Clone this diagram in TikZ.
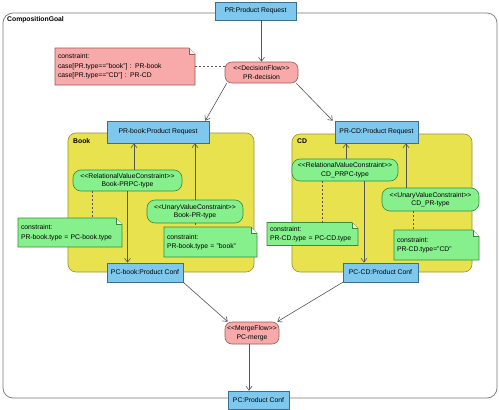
\documentclass[tikz,border=0pt]{standalone}
\usepackage{fontspec}
\setmainfont{Liberation Sans}
\usetikzlibrary{arrows.meta,calc}
\pgfdeclarelayer{bg}\pgfdeclarelayer{mid}\pgfsetlayers{bg,mid,main}
\definecolor{blueF}{HTML}{7EC8EE}
\definecolor{blueD}{HTML}{3B6E8F}
\definecolor{pinkF}{HTML}{F8AAAA}
\definecolor{pinkD}{HTML}{A05A5A}
\definecolor{greenF}{HTML}{86F08C}
\definecolor{greenD}{HTML}{3A8A3A}
\definecolor{yelF}{HTML}{E9E24F}
\definecolor{yelD}{HTML}{9A9030}
\definecolor{lineC}{HTML}{555555}
\definecolor{frameC}{HTML}{777777}
\newcommand\stL{<\kern0pt<}
\newcommand\stR{>\kern0pt>}
\begin{document}
\begin{tikzpicture}[x=1pt,y=-1pt,
  font=\fontsize{6.8}{8.5}\selectfont,
  cls/.style={draw=blueD, fill=blueF, inner sep=0pt, line width=0.6pt},
  flow/.style={draw=pinkD, fill=pinkF, rounded corners=7pt, align=center, inner sep=0pt, line width=0.6pt},
  cons/.style={draw=greenD, fill=greenF, rounded corners=8pt, align=center, inner sep=0pt, line width=0.6pt},
  note/.style={align=left, inner xsep=3pt, inner ysep=0pt, outer sep=0pt, font=\fontsize{6.8}{9.5}\selectfont},
  conn/.style={draw=lineC, line width=0.6pt, -{Straight Barb[length=4pt,width=6pt]}},
  link/.style={draw=lineC, line width=0.6pt, dash pattern=on 2pt off 2pt},
  container/.style={draw=yelD, fill=yelF, rounded corners=8pt, inner sep=0pt, line width=0.6pt},
  framebox/.style={draw=frameC, rounded corners=10pt, inner sep=0pt, line width=0.7pt},
  lbl/.style={font=\fontsize{6.8}{8}\selectfont\bfseries, anchor=west, inner sep=0pt}
]
\useasboundingbox (0,0) rectangle (499,410);

% frame and containers
\begin{pgfonlayer}{bg}
\fill[white] (0,0) rectangle (499,410);
\node[framebox, minimum width=494pt, minimum height=385pt] (frame) at (250,205.5) {};
\node[container, minimum width=186pt, minimum height=139pt] (book) at (161,202.5) {};
\node[container, minimum width=180pt, minimum height=138pt] (cd) at (382,203) {};
\end{pgfonlayer}
\node[lbl] (framel) at (7,20) {CompositionGoal};
\node[lbl] (bookl) at (73,141.5) {Book};
\node[lbl] (cdl) at (297,141) {CD};

% class boxes
\node[cls, minimum width=81pt, minimum height=18pt] (pr) at (255.5,11) {PR:Product Request};
\node[cls, minimum width=102pt, minimum height=22pt] (prb) at (158,132) {PR-book:Product Request};
\node[cls, minimum width=83pt, minimum height=22pt] (prc) at (376.5,132) {PR-CD:Product Request};
\node[cls, minimum width=76pt, minimum height=19pt] (pcb) at (145,272.5) {PC-book:Product Conf};
\node[cls, minimum width=75pt, minimum height=19pt] (pcc) at (380.5,272.5) {PC-CD:Product Conf};
\node[cls, minimum width=61pt, minimum height=18pt] (pc) at (258.5,400) {PC:Product Conf};

% flow nodes
\node[flow, minimum width=73pt, minimum height=21pt] (dec) at (261.5,72.5) {\stL DecisionFlow\stR\\PR-decision};
\node[flow, minimum width=54pt, minimum height=22pt] (merge) at (252,333) {\stL MergeFlow\stR\\PC-merge};

% constraint nodes
\node[cons, minimum width=109pt, minimum height=21pt] (bprpc) at (127.5,180.5) {\stL RelationalValueConstraint\stR\\Book-PRPC-type};
\node[cons, minimum width=96pt, minimum height=23pt] (bpr) at (195,211.5) {\stL UnaryValueConstraint\stR\\Book-PR-type};
\node[cons, minimum width=106pt, minimum height=22pt] (cprpc) at (345,170) {\stL RelationalValueConstraint\stR\\CD\_PRPC-type};
\node[cons, minimum width=97pt, minimum height=23pt] (cpr) at (430.5,199.5) {\stL UnaryValueConstraint\stR\\CD\_PR-type};

% notes (text)
\node[note, text width=134pt, minimum height=37pt] (cnote) at (125,66.5) {constraint:\\case[PR.type=="book"] : PR-book\\case[PR.type=="CD"] : PR-CD};
\node[note, text width=98pt, minimum height=29pt] (bnote1) at (70,232.5) {constraint:\\PR-book.type = PC-book.type};
\node[note, text width=87pt, minimum height=30pt] (bnote2) at (210.5,242) {constraint:\\PR-book.type = "book"};
\node[note, text width=85pt, minimum height=23pt] (cnote1) at (312.5,234) {constraint:\\PR-CD.type = PC-CD.type};
\node[note, text width=79pt, minimum height=30pt] (cnote2) at (436.5,245) {constraint:\\PR-CD.type="CD"};

% note outlines
\begin{pgfonlayer}{mid}
\foreach \n/\fc/\dc in {cnote/pinkF/pinkD, bnote1/greenF/greenD, bnote2/greenF/greenD, cnote1/greenF/greenD, cnote2/greenF/greenD}{
  \draw[fill=\fc, draw=\dc, line width=0.6pt] (\n.north west) -- ([xshift=-6pt]\n.north east) -- ([yshift=-6pt]\n.north east) -- (\n.south east) -- (\n.south west) -- cycle;
  \draw[draw=\dc, line width=0.6pt, fill=white] ([xshift=-6pt]\n.north east) -- ([xshift=-6pt,yshift=-6pt]\n.north east) -- ([yshift=-6pt]\n.north east);
}
\end{pgfonlayer}

% connectors
\draw[conn] (dec.north |- pr.south) -- (dec.north);
\draw[link] (cnote.east) -- (cnote.east -| dec.west);
\draw[conn] ([xshift=2pt]dec.south west) -- ([xshift=-4pt]prb.north east);
\draw[conn] ([xshift=-2pt]dec.south east) -- ([xshift=-2pt]prc.north west);

\draw[conn] ([xshift=6.5pt]bprpc.north) -- ([xshift=6.5pt]bprpc.north |- prb.south);
\draw[conn] (bprpc.south) -- (bprpc.south |- pcb.north);
\draw[conn] (bpr.north) -- (bpr.north |- prb.south);
\draw[link] ([xshift=-35.5pt]bprpc.south) -- ([xshift=-35.5pt]bprpc.south |- bnote1.north);
\draw[link] (bpr.south) -- (bpr.south |- bnote2.north);

\draw[conn] ([xshift=1pt]cprpc.north) -- ([xshift=1pt]cprpc.north |- prc.south);
\draw[conn] ([xshift=19pt]cprpc.south) -- ([xshift=19pt]cprpc.south |- pcc.north);
\draw[conn] ([xshift=-24.5pt]cpr.north) -- ([xshift=-24.5pt]cpr.north |- prc.south);
\draw[link] ([xshift=-23pt]cprpc.south) -- ([xshift=-23pt]cprpc.south |- cnote1.north);
\draw[link] ([xshift=-17.5pt]cpr.south) -- ([xshift=-17.5pt]cpr.south |- cnote2.north);

\draw[conn] (pcb.south east) -- ([xshift=3pt]merge.north west);
\draw[conn] (pcc.south west) -- ([xshift=-2pt]merge.north east);
\draw[conn] ([xshift=-3pt]merge.south) -- ([xshift=-3pt]merge.south |- pc.north);
\end{tikzpicture}
\end{document}
